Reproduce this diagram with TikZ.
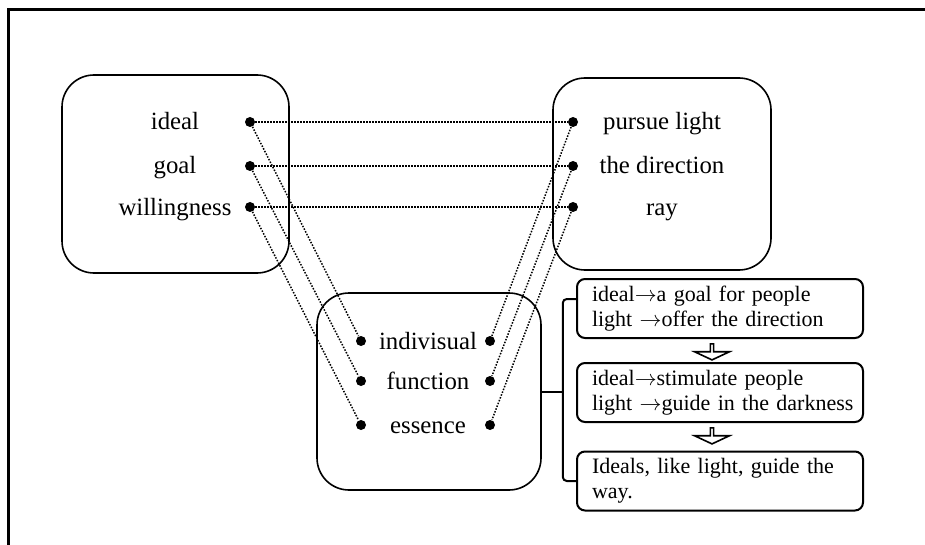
\documentclass[tikz,border=0pt]{standalone}
\usepackage{fontspec}
\setmainfont{Liberation Serif}
\usetikzlibrary{calc,shapes.arrows}
\newcommand{\toarrow}{\ensuremath{\rightarrow}}
\tikzset{
  panel/.style={draw,line width=0.8pt,rounded corners=16pt,inner sep=0pt},
  dot/.style={circle,fill,inner sep=0pt,minimum size=5pt},
  word/.style={anchor=base,inner sep=0pt,font=\fontsize{12.4}{14}\selectfont},
  link/.style={line width=0.75pt,dash pattern=on 0.75pt off 0.75pt},
  stepbox/.style={draw,line width=1pt,rounded corners=4pt,text width=128pt,
    inner xsep=7.5pt,inner ysep=0pt,minimum height=29.5pt,align=left,
    font=\fontsize{11}{12.5}\selectfont},
  downarrow/.style={draw,line width=0.8pt,single arrow,shape border rotate=270,
    single arrow tip angle=130,single arrow head extend=3.75pt,
    minimum height=8pt,minimum width=17.5pt,inner sep=0pt},
  bracket/.style={line width=1pt,rounded corners=2pt}
}

\begin{document}
\begin{tikzpicture}[x=0.5pt,y=-0.5pt]
        \useasboundingbox (0,0) rectangle (925,545);
        \draw[line width=1.5pt] (8,545) -- (8,10) -- (925,10);

        % three panels
        \node[panel,minimum width=113.5pt,minimum height=99pt]
          (leftpanel) at (175.5,174) {};
        \node[panel,minimum width=109pt,minimum height=96pt]
          (rightpanel) at (662,174) {};
        \node[panel,minimum width=112pt,minimum height=98.5pt]
          (midpanel) at (429,391.5) {};

        \foreach \nm/\txt/\y in {ideal/ideal/122,goal/goal/166,
          will/willingness/207}{
          \node[word] (w\nm) at (175,\y+8) {\txt};
          \node[dot] (\nm) at (250,\y) {};
        }
        \foreach \nm/\txt/\y in {pursue/pursue light/122,
          dir/the direction/166,ray/ray/207}{
          \node[word] (w\nm) at (662,\y+8) {\txt};
          \node[dot] (\nm) at (573,\y) {};
        }
        \foreach \nm/\txt/\y in {indiv/indivisual/341,func/function/381,
          ess/essence/425}{
          \node[word] (w\nm) at (428,\y+8) {\txt};
          \node[dot] (\nm-l) at (361,\y) {};
          \node[dot] (\nm-r) at (490,\y) {};
        }

        \foreach \a/\b/\c in {ideal/pursue/indiv,goal/dir/func,will/ray/ess}{
          \draw[link] (\a) -- (\b);
          \draw[link] (\a) -- (\c-l);
          \draw[link] (\b) -- (\c-r);
        }

        % steps on the right
        \node[stepbox] (stepa) at (720,308.5)
          {\mbox{ideal\toarrow a goal for people}\\
           \mbox{light \toarrow offer the direction}};
        \node[stepbox] (stepb) at (720,392.5)
          {\mbox{ideal\toarrow stimulate people}\\
           \mbox{light \toarrow guide in the darkness}};
        \node[stepbox] (stepc) at (720,481)
          {\mbox{Ideals, like light, guide the}\\\mbox{way.}};
        \node[downarrow] (arra) at (712,351.5) {};
        \node[downarrow] (arrb) at (712,435.5) {};

        \coordinate (brace) at ($(midpanel.east)+(21,0)$);
        \draw[bracket] (midpanel.east) -- (brace);
        \draw[bracket] ($(stepa.west)+(0,-9.5)$) -| (brace) |- (stepc.west);
      \end{tikzpicture}
\end{document}
